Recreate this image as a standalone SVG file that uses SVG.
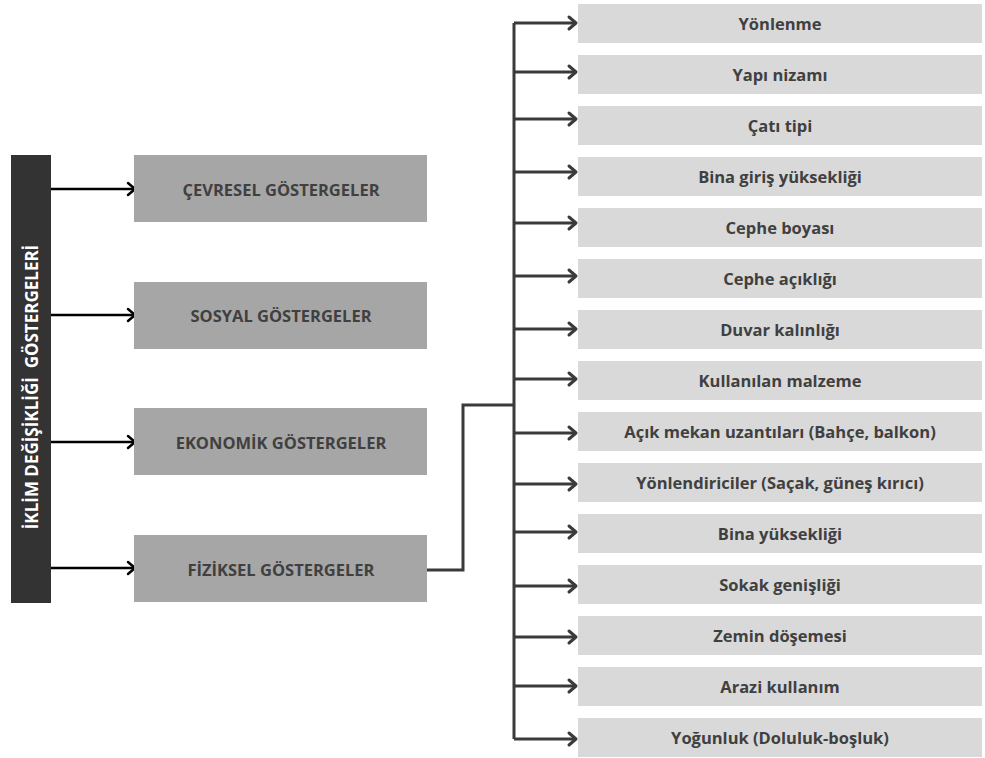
<svg xmlns="http://www.w3.org/2000/svg" width="985" height="758" viewBox="0 0 985 758">
<style>
.bar{fill:#333333}
.lbox{fill:#a6a6a6}
.rbox{fill:#d9d9d9}
.t{font-family:"Open Sans","Liberation Sans",sans-serif;font-weight:bold;font-size:16.5px;fill:#404040;text-anchor:middle;dominant-baseline:central}
.vt{font-family:"Open Sans","Liberation Sans",sans-serif;font-weight:bold;font-size:17px;fill:#ffffff;text-anchor:middle;dominant-baseline:central}
.lc{stroke:#000000;stroke-width:2.5;fill:none}
.rc{stroke:#3a3a3a;stroke-width:3;fill:none}
.ah{stroke:#000000;stroke-width:2.5;fill:none;stroke-linecap:round;stroke-linejoin:round}
.rh{stroke:#3a3a3a;stroke-width:3;fill:none;stroke-linecap:round;stroke-linejoin:round}
</style>
<rect width="985" height="758" fill="#ffffff"/>
<g id="connectors">
  <path class="lc" d="M51 189H135"/><path class="ah" d="M128 183L135 189L128 195"/>
  <path class="lc" d="M51 315H135"/><path class="ah" d="M128 309L135 315L128 321"/>
  <path class="lc" d="M51 442H135"/><path class="ah" d="M128 436L135 442L128 448"/>
  <path class="lc" d="M51 568H135"/><path class="ah" d="M128 562L135 568L128 574"/>
  <path class="rc" d="M427 570H463V405H514"/>
  <path class="rc" d="M514 23V739"/>
  <g>
    <path class="rc" d="M514 23H576"/><path class="rh" d="M569 17L576 23L569 29"/>
    <path class="rc" d="M514 72H576"/><path class="rh" d="M569 66L576 72L569 78"/>
    <path class="rc" d="M514 119H576"/><path class="rh" d="M569 113L576 119L569 125"/>
    <path class="rc" d="M514 172H576"/><path class="rh" d="M569 166L576 172L569 178"/>
    <path class="rc" d="M514 223H576"/><path class="rh" d="M569 217L576 223L569 229"/>
    <path class="rc" d="M514 276H576"/><path class="rh" d="M569 270L576 276L569 282"/>
    <path class="rc" d="M514 329H576"/><path class="rh" d="M569 323L576 329L569 335"/>
    <path class="rc" d="M514 379H576"/><path class="rh" d="M569 373L576 379L569 385"/>
    <path class="rc" d="M514 433H576"/><path class="rh" d="M569 427L576 433L569 439"/>
    <path class="rc" d="M514 484H576"/><path class="rh" d="M569 478L576 484L569 490"/>
    <path class="rc" d="M514 532H576"/><path class="rh" d="M569 526L576 532L569 538"/>
    <path class="rc" d="M514 586H576"/><path class="rh" d="M569 580L576 586L569 592"/>
    <path class="rc" d="M514 637H576"/><path class="rh" d="M569 631L576 637L569 643"/>
    <path class="rc" d="M514 686H576"/><path class="rh" d="M569 680L576 686L569 692"/>
    <path class="rc" d="M514 739H576"/><path class="rh" d="M569 733L576 739L569 745"/>
  </g>
</g>
<g id="root">
  <rect class="bar" x="11" y="155" width="40" height="448"/>
  <text class="vt" transform="translate(31,387) rotate(-90)" xml:space="preserve">İKLİM DEĞİŞİKLİĞİ  GÖSTERGELERİ</text>
</g>
<g id="cevresel"><rect class="lbox" x="134" y="155" width="293" height="67"/><text class="t" x="281" y="189">ÇEVRESEL GÖSTERGELER</text></g>
<g id="sosyal"><rect class="lbox" x="134" y="282" width="293" height="67"/><text class="t" x="281" y="315">SOSYAL GÖSTERGELER</text></g>
<g id="ekonomik"><rect class="lbox" x="134" y="408" width="293" height="67"/><text class="t" x="281" y="442">EKONOMİK GÖSTERGELER</text></g>
<g id="fiziksel"><rect class="lbox" x="134" y="535" width="293" height="67"/><text class="t" x="281" y="569">FİZİKSEL GÖSTERGELER</text></g>
<g id="r1"><rect class="rbox" x="578" y="4" width="404" height="39"/><text class="t" x="780" y="23.5">Yönlenme</text></g>
<g id="r2"><rect class="rbox" x="578" y="55" width="404" height="39"/><text class="t" x="780" y="74.5">Yapı nizamı</text></g>
<g id="r3"><rect class="rbox" x="578" y="106" width="404" height="39"/><text class="t" x="780" y="125.5">Çatı tipi</text></g>
<g id="r4"><rect class="rbox" x="578" y="157" width="404" height="39"/><text class="t" x="780" y="176.5">Bina giriş yüksekliği</text></g>
<g id="r5"><rect class="rbox" x="578" y="208" width="404" height="39"/><text class="t" x="780" y="227.5">Cephe boyası</text></g>
<g id="r6"><rect class="rbox" x="578" y="259" width="404" height="39"/><text class="t" x="780" y="278.5">Cephe açıklığı</text></g>
<g id="r7"><rect class="rbox" x="578" y="310" width="404" height="39"/><text class="t" x="780" y="329.5">Duvar kalınlığı</text></g>
<g id="r8"><rect class="rbox" x="578" y="361" width="404" height="39"/><text class="t" x="780" y="380.5">Kullanılan malzeme</text></g>
<g id="r9"><rect class="rbox" x="578" y="412" width="404" height="39"/><text class="t" x="780" y="431.5">Açık mekan uzantıları (Bahçe, balkon)</text></g>
<g id="r10"><rect class="rbox" x="578" y="463" width="404" height="39"/><text class="t" x="780" y="482.5">Yönlendiriciler (Saçak, güneş kırıcı)</text></g>
<g id="r11"><rect class="rbox" x="578" y="514" width="404" height="39"/><text class="t" x="780" y="533.5">Bina yüksekliği</text></g>
<g id="r12"><rect class="rbox" x="578" y="565" width="404" height="39"/><text class="t" x="780" y="584.5">Sokak genişliği</text></g>
<g id="r13"><rect class="rbox" x="578" y="616" width="404" height="39"/><text class="t" x="780" y="635.5">Zemin döşemesi</text></g>
<g id="r14"><rect class="rbox" x="578" y="667" width="404" height="39"/><text class="t" x="780" y="686.5">Arazi kullanım</text></g>
<g id="r15"><rect class="rbox" x="578" y="718" width="404" height="39"/><text class="t" x="780" y="737.5">Yoğunluk (Doluluk-boşluk)</text></g>
</svg>
